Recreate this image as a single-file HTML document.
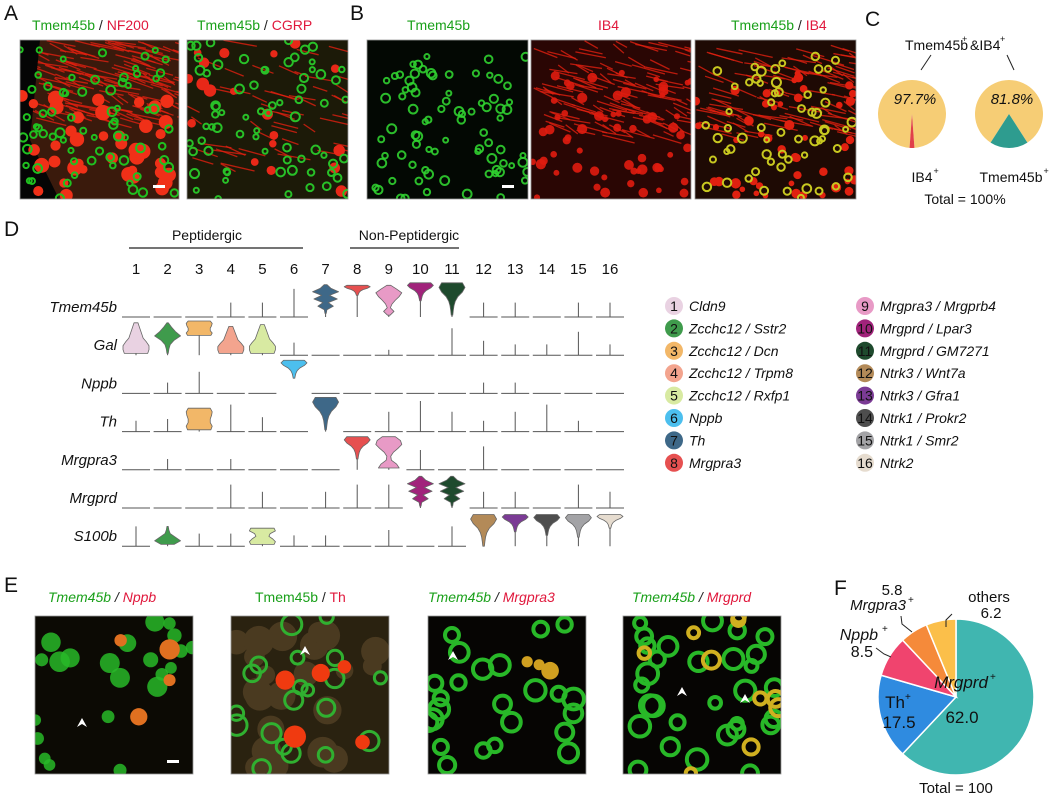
<!DOCTYPE html>
<html><head><meta charset="utf-8">
<style>
body{margin:0;background:#fff;width:1059px;height:801px;overflow:hidden;position:relative;font-family:"Liberation Sans",sans-serif;}
.abs{position:absolute;}
.pl{position:absolute;font-size:21px;color:#111;}
.lab{position:absolute;font-size:14px;white-space:nowrap;}
.g{color:#1aa01a}.r{color:#e0183c}.k{color:#222}
</style></head><body>
<div class="pl" style="left:4px;top:2px">A</div>
<div class="pl" style="left:350px;top:2px">B</div>
<div class="pl" style="left:4px;top:218px">D</div>
<div class="pl" style="left:4px;top:574px">E</div>

<div class="lab" style="left:32px;top:17px"><span class="g">Tmem45b</span> <span class="k">/</span> <span class="r">NF200</span></div>
<div class="lab" style="left:197px;top:17px"><span class="g">Tmem45b</span> <span class="k">/</span> <span class="r">CGRP</span></div>
<div class="lab g" style="left:407px;top:17px">Tmem45b</div>
<div class="lab r" style="left:598px;top:17px">IB4</div>
<div class="lab" style="left:731px;top:17px"><span class="g">Tmem45b</span> <span class="k">/</span> <span class="r">IB4</span></div>

<div class="lab" style="left:48px;top:589px;font-style:italic"><span class="g">Tmem45b</span> <span class="k">/</span> <span class="r">Nppb</span></div>
<div class="lab" style="left:255px;top:589px"><span class="g">Tmem45b</span> <span class="k">/</span> <span class="r">Th</span></div>
<div class="lab" style="left:428px;top:589px;font-style:italic"><span class="g">Tmem45b</span> <span class="k">/</span> <span class="r">Mrgpra3</span></div>
<div class="lab" style="left:632px;top:589px;font-style:italic"><span class="g">Tmem45b</span> <span class="k">/</span> <span class="r">Mrgprd</span></div>

<svg id="main" class="abs" style="left:0;top:0" width="1059" height="801"></svg>

<script>
// ---------- Panel D data ----------
const clusters = ["1","2","3","4","5","6","7","8","9","10","11","12","13","14","15","16"];
const clusterNames = ["Cldn9","Zcchc12 / Sstr2","Zcchc12 / Dcn","Zcchc12 / Trpm8","Zcchc12 / Rxfp1","Nppb","Th","Mrgpra3","Mrgpra3 / Mrgprb4","Mrgprd / Lpar3","Mrgprd / GM7271","Ntrk3 / Wnt7a","Ntrk3 / Gfra1","Ntrk1 / Prokr2","Ntrk1 / Smr2","Ntrk2"];
const clusterColors = ["#e9d2e2","#3f9b4c","#f2b768","#f3a48e","#d8eaa2","#4cbfee","#3e6888","#e65050","#e89ac6","#a1237b","#1e4a2d","#b38a58","#7b3b95","#4e4e4e","#a3a3a6","#e6dccf"];
const genes = ["Tmem45b","Gal","Nppb","Th","Mrgpra3","Mrgprd","S100b"];
// spike heights (0..1), null where a violin is drawn
const exprTmem45b = [0,0,0,.4,.4,.78,null,null,null,null,null,.4,.4,0,.4,.4];
const exprGal     = [null,null,null,null,null,.35,0,0,.15,0,.75,.4,.3,.3,.65,.3];
const exprNppb    = [0,.3,.6,0,0,null,0,0,0,0,0,.3,.3,0,0,0];
const exprTh      = [.3,.35,null,.75,.4,0,null,0,.55,.85,.55,.3,.55,.75,.3,0];
const exprMrgpra3 = [0,.3,0,.3,0,0,0,null,null,.55,0,.65,0,0,0,0];
const exprMrgprd  = [0,0,0,.65,.45,0,.45,.65,.65,null,null,.45,.45,0,.65,.45];
const exprS100b   = [.55,null,.35,.35,null,.3,.3,0,.45,0,.55,null,null,null,null,null];
const exprRows = [exprTmem45b,exprGal,exprNppb,exprTh,exprMrgpra3,exprMrgprd,exprS100b];
// violins: [cluster index, shape, top (fraction of row above baseline), bottom]
const violinsTmem45b = [[6,"spiky",.9,.1],[7,"top",.88,.6],[8,"diamond",.88,.05],[9,"top",.95,.45],[10,"top",.95,.05]];
const violinsGal = [[0,"bottom",.9,.05],[1,"star",.9,.05],[2,"box",.95,.55],[3,"bottom",.8,.05],[4,"bottom",.85,.05]];
const violinsNppb = [[5,"top",.92,.42]];
const violinsTh = [[2,"box",.65,.05],[6,"top",.95,.05]];
const violinsMrgpra3 = [[7,"top",.92,.3],[8,"hour",.92,.05]];
const violinsMrgprd = [[9,"spiky",.88,.05],[10,"spiky",.88,.05]];
const violinsS100b = [[1,"spike",.55,.05],[4,"box2",.5,.05],[11,"top",.88,0],[12,"top",.88,.4],[13,"top",.88,.3],[14,"top",.88,.25],[15,"top",.88,.5]];
const violinRows = [violinsTmem45b,violinsGal,violinsNppb,violinsTh,violinsMrgpra3,violinsMrgprd,violinsS100b];

// ---------- Panel C data ----------
const pieCLabels = ["IB4+","Tmem45b+"];
const pieCMain = [97.7, 81.8];
const pieCColors = [["#f6cd75","#e0404a"],["#f6cd75","#2e9c8f"]];

// ---------- Panel F data ----------
const pieFLabels = ["Mrgprd+","Th+","Nppb+","Mrgpra3+","others"];
const pieFValues = [62.0, 17.5, 8.5, 5.8, 6.2];
const pieFColors = ["#40b6b0","#2f8be0","#f0446e","#f58a3a","#fbbf4a"];

const NS="http://www.w3.org/2000/svg";
const svg=document.getElementById('main');
function mk(tag,attrs,parent){const e=document.createElementNS(NS,tag);for(const k in attrs)e.setAttribute(k,attrs[k]);(parent||svg).appendChild(e);return e;}

// ---------- Microscopy images (decorative) ----------
let seed=12345;
function rnd(){seed=(seed*1103515245+12345)%2147483648;return seed/2147483648;}
function micro(name,x,y,w,h,bg,cells,opts){
  const g=mk('g',{});
  
  
  const cp=mk('clipPath',{id:'cp'+name},g);mk('rect',{x:x,y:y,width:w,height:h},cp);
  const inner=mk('g',{'clip-path':'url(#cp'+name+')'},g);
  mk('rect',{x:x,y:y,width:w,height:h,fill:bg},inner);
  if(opts&&opts.fibers){for(let i=0;i<opts.fibers;i++){const fx=x+rnd()*w,fy=y+rnd()*h*opts.fh;mk('line',{x1:fx,y1:fy,x2:fx+10+rnd()*25,y2:fy+4+rnd()*6,stroke:'#e02010','stroke-width':1.3,opacity:.8},inner);}}
  if(opts&&opts.dark){mk('path',{d:opts.dark,fill:'#050505'},inner);}
  cells.forEach(c=>{for(let i=0;i<c.n;i++){const cx=x+(c.x0+rnd()*(c.x1-c.x0))*w,cy=y+(c.y0+rnd()*(c.y1-c.y0))*h,r=c.r*(0.7+rnd()*0.6);
    if(c.ring){mk('circle',{cx:cx,cy:cy,r:r,fill:'none',stroke:c.col,'stroke-width':c.sw||2,opacity:c.op||1},inner);}
    else mk('circle',{cx:cx,cy:cy,r:r,fill:c.col,opacity:c.op||1},inner);}});
  if(opts&&opts.bar){mk('rect',{x:x+w-26,y:y+h-14,width:12,height:3,fill:'#fff'},inner);}
  mk('rect',{x:x,y:y,width:w,height:h,fill:'none',stroke:'#999','stroke-width':.8},g);
}
micro('a1-image',20,40,159,159,'#3a1a0c',[{n:40,x0:0,x1:1,y0:.35,y1:1,r:6,col:'#f03018'},{n:70,x0:0,x1:1,y0:.05,y1:1,r:3.5,col:'#20c020',ring:true}],{fibers:150,fh:.5,dark:'M20,40 L40,40 L30,140 L60,201 L20,201Z',bar:true});
micro('a2-image',187,40,161,159,'#1c1a08',[{n:20,x0:0,x1:1,y0:0,y1:1,r:5,col:'#e82818'},{n:70,x0:0,x1:1,y0:0,y1:1,r:3.5,col:'#28c028',ring:true}],{fibers:50,fh:.8});
micro('b1-image',367,40,161,159,'#030803',[{n:80,x0:.05,x1:1,y0:.1,y1:1,r:3.5,col:'#30d030',ring:true,op:.9}],{bar:true});
micro('b2-image',531,40,160,159,'#2a0604',[{n:60,x0:0,x1:1,y0:.2,y1:1,r:4,col:'#e01c10',op:.9}],{fibers:120,fh:.6});
micro('b3-image',695,40,161,159,'#1e0a04',[{n:50,x0:0,x1:1,y0:.2,y1:1,r:4,col:'#e02010'},{n:60,x0:.05,x1:1,y0:.1,y1:1,r:3.5,col:'#c8c820',ring:true}],{fibers:100,fh:.6});
micro('e1-image',35,616,158,158,'#0c0a04',[{n:22,x0:0,x1:1,y0:0,y1:1,r:8,col:'#28b828',op:.85},{n:4,x0:.3,x1:1,y0:.1,y1:.7,r:8,col:'#e07020'}],{bar:true});
micro('e2-image',231,616,158,158,'#2a2210',[{n:25,x0:0,x1:1,y0:0,y1:1,r:12,col:'#4a3a20'},{n:20,x0:0,x1:1,y0:0,y1:1,r:8,col:'#30b030',ring:true,sw:3},{n:5,x0:.3,x1:.9,y0:.2,y1:.8,r:9,col:'#f03a10'}]);
micro('e3-image',428,616,158,158,'#060503',[{n:24,x0:0,x1:1,y0:0,y1:1,r:8,col:'#28b828',ring:true,sw:4},{n:3,x0:.1,x1:.8,y0:.1,y1:.9,r:7,col:'#d0a020'}]);
micro('e4-image',623,616,158,158,'#060503',[{n:30,x0:0,x1:1,y0:0,y1:1,r:8,col:'#28b828',ring:true,sw:4},{n:10,x0:0,x1:1,y0:0,y1:1,r:7,col:'#d0b020',ring:true,sw:4}]);
// arrowheads
[[82,718],[305,646],[453,651],[682,687],[745,694]].forEach(p=>{const a=mk('path',{d:`M${p[0]},${p[1]} l-5,9 l5,-3 l5,3 Z`,fill:'#fff'});});

// ---------- Panel C ----------
function txt(s,x,y,o){const t=mk('text',Object.assign({x:x,y:y,'font-family':'Liberation Sans, sans-serif','font-size':14,fill:'#111'},o||{}));t.textContent=s;return t;}
const cT=txt('C',865,26,{'font-size':21});
const ct=txt('Tmem45b',905,50);
txt('+',962,42,{'font-size':9});txt('&IB4',970,50);txt('+',1000,42,{'font-size':9});
mk('line',{x1:931,y1:55,x2:921,y2:70,stroke:'#222'});mk('line',{x1:1007,y1:55,x2:1014,y2:70,stroke:'#222'});
const pieCx=[912,1009],pieCy=114,pieCr=34;
function arcPath(cx,cy,r,a0,a1){const x0=cx+r*Math.cos(a0),y0=cy+r*Math.sin(a0),x1=cx+r*Math.cos(a1),y1=cy+r*Math.sin(a1);return `M${cx},${cy} L${x0},${y0} A${r},${r} 0 ${a1-a0>Math.PI?1:0} 1 ${x1},${y1} Z`;}
pieCMain.forEach((v,i)=>{
  const minor=(100-v)/100*2*Math.PI, mid=Math.PI/2;
  const s1=mk('path',{d:arcPath(pieCx[i],pieCy,pieCr,mid+minor/2,mid-minor/2+2*Math.PI),fill:pieCColors[i][0]});
  
  const s2=mk('path',{d:arcPath(pieCx[i],pieCy,pieCr,mid-minor/2,mid+minor/2),fill:pieCColors[i][1]});
  
  txt(v.toFixed(1)+'%',pieCx[i]+3,pieCy-10,{'font-size':15,'font-style':'italic','text-anchor':'middle'});
  const lb=pieCLabels[i].replace('+','');
  const l=txt(lb,pieCx[i]+(i?2:10),182,{'text-anchor':'middle'});
  txt('+',pieCx[i]+(i?2:10)+l.getComputedTextLength()/2+1,174,{'font-size':9});
});
txt('Total = 100%',965,204,{'text-anchor':'middle'});

// ---------- Panel D ----------
const colX=i=>136+i*31.6;
const rowY=i=>317+i*38.2;
const rowH=36;
const head1=txt('Peptidergic',207,240,{'text-anchor':'middle'});
mk('line',{x1:129,y1:248,x2:303,y2:248,stroke:'#222','stroke-width':1.3});
const head2=txt('Non-Peptidergic',409,240,{'text-anchor':'middle'});
mk('line',{x1:350,y1:248,x2:459,y2:248,stroke:'#222','stroke-width':1.3});
clusters.forEach((c,i)=>{const t=txt(c,colX(i),274,{'text-anchor':'middle','font-size':15});});
const shapes={bottom:[.15,.25,.35,.45,.55,.8,1,1,.9],top:[.8,1,.8,.45,.25,.15,.1,.06],box:[.85,1,.95,.85,.85,1,.9],box2:[.9,1,.6,.5,.8,1,.9],diamond:[.15,.6,1,.8,.5,.25,.12,.4,.1],spiky:[.1,.4,1,.3,.9,.2,.6,.1,.05],star:[.05,.3,.6,1,.5,.2,.1,.05],hour:[.5,.9,1,.7,.35,.15,.2,.6,.8],spike:[.05,.1,.2,.6,1,.5]};
genes.forEach((gname,ri)=>{
  const by=rowY(ri);
  const gl=txt(gname,117,by-5,{'text-anchor':'end','font-size':15,'font-style':'italic'});
  
  exprRows[ri].forEach((v,ci)=>{
    if(v===null)return;
    const x=colX(ci);
    const b=mk('line',{x1:x-14,y1:by,x2:x+14,y2:by,stroke:'#555','stroke-width':1});
    
    if(v>0){const s=mk('line',{x1:x,y1:by,x2:x,y2:by-v*rowH,stroke:'#555','stroke-width':1});
      }
  });
  violinRows[ri].forEach(vd=>{
    const ci=vd[0],prof=shapes[vd[1]],x=colX(ci),yt=by-vd[2]*rowH,yb=by-vd[3]*rowH,hw=13;
    const n=prof.length;let L=[],R=[];
    prof.forEach((w,k)=>{const yy=yt+(yb-yt)*k/(n-1);L.push(`${x-w*hw},${yy}`);R.unshift(`${x+w*hw},${yy}`);});
    if(exprRows[ri][ci]===null && vd[3]>0.03 && !(ri===2)){mk('line',{x1:x,y1:yb,x2:x,y2:by,stroke:'#555','stroke-width':1});}
    const p=mk('path',{d:`M${x},${yt} L${L.join(' L')} L${x},${yb} L${R.join(' L')} Z`,fill:clusterColors[ci],stroke:'#666','stroke-width':.8,'stroke-linejoin':'round'});
    
  });
});
// legend
clusterNames.forEach((nm,i)=>{
  const col=i<8?0:1, r=i%8;
  const cx=col?865:674, cy=306+r*22.4;
  const c=mk('circle',{cx:cx,cy:cy,r:9,fill:clusterColors[i]});
  
  txt(clusters[i],cx,cy+5,{'text-anchor':'middle','font-size':14});
  const t=txt(nm,cx+15,cy+5,{'font-size':14,'font-style':'italic'});
  
});

// ---------- Panel F ----------
const fT=txt('F',834,595,{'font-size':21});
const fcx=956,fcy=697,fr=78;
const total=pieFValues.reduce((a,b)=>a+b,0);
let ang=-Math.PI/2;
pieFValues.forEach((v,i)=>{const a1=ang+v/total*2*Math.PI;
  const p=mk('path',{d:arcPath(fcx,fcy,fr,ang,a1),fill:pieFColors[i],stroke:'#fff','stroke-width':1.5});
  
  ang=a1;});
txt('Mrgprd',961,688,{'font-size':17,'font-style':'italic','text-anchor':'middle'});txt('+',990,680,{'font-size':10});
txt(pieFValues[0].toFixed(1),962,723,{'font-size':17,'text-anchor':'middle'});
txt('Th',895,708,{'font-size':17,'text-anchor':'middle'});txt('+',905,700,{'font-size':10});
txt(pieFValues[1].toFixed(1),899,728,{'font-size':17,'text-anchor':'middle'});
txt('Nppb',878,640,{'font-size':16,'font-style':'italic','text-anchor':'end'});txt('+',882,632,{'font-size':10});
txt(pieFValues[2].toFixed(1),873,657,{'font-size':16,'text-anchor':'end'});
txt(pieFValues[3].toFixed(1),892,595,{'font-size':15,'text-anchor':'middle'});
txt('Mrgpra3',906,610,{'font-size':15,'font-style':'italic','text-anchor':'end'});txt('+',908,603,{'font-size':10});
txt('others',989,602,{'font-size':15,'text-anchor':'middle'});
txt(pieFValues[4].toFixed(1),991,618,{'font-size':15,'text-anchor':'middle'});
mk('path',{d:'M876,648 L884,654 L891,657',fill:'none',stroke:'#222'});
mk('path',{d:'M901,616 L902,624 L912,632',fill:'none',stroke:'#222'});
mk('path',{d:'M952,614 L946,620 L946,627',fill:'none',stroke:'#222'});
txt('Total = 100',956,793,{'font-size':15,'text-anchor':'middle'});
</script>
</body></html>
